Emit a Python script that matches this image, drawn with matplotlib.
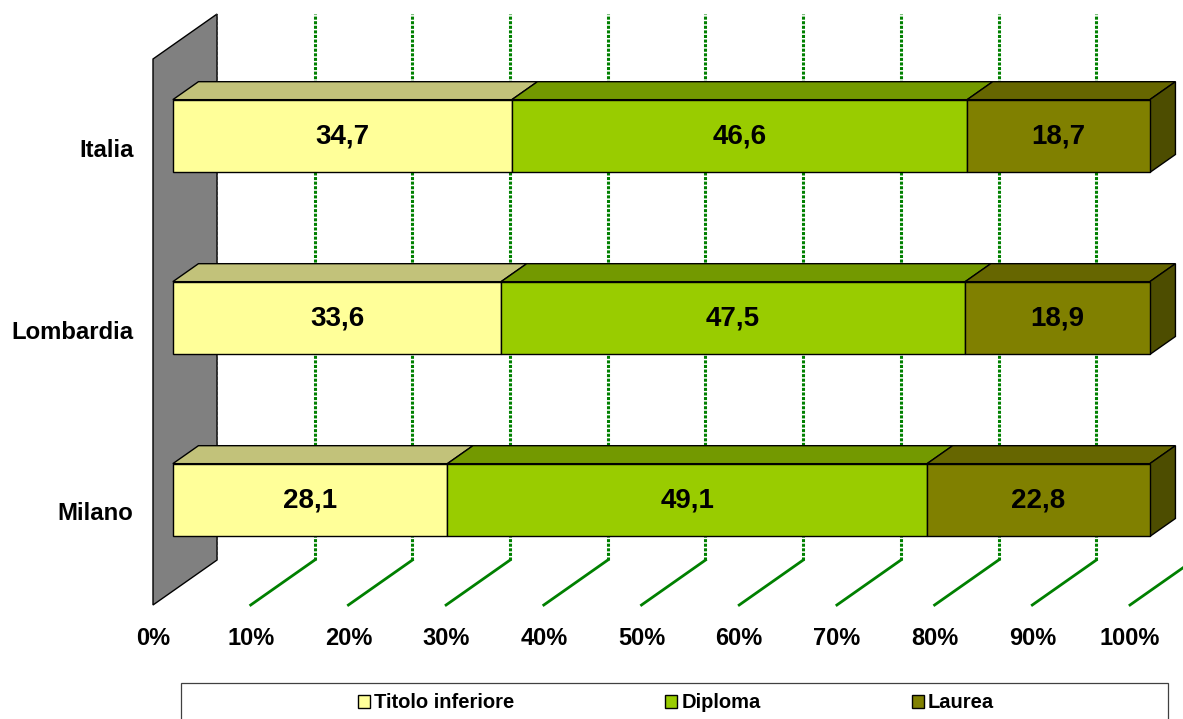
import matplotlib
matplotlib.use('Agg')
import matplotlib.pyplot as plt
from matplotlib.patches import Polygon, Rectangle, Patch

plt.rcParams['font.family'] = ['Liberation Sans', 'DejaVu Sans']
plt.rcParams['font.weight'] = 'bold'

# share of population by education level (%)
areas = ['Milano', 'Lombardia', 'Italia']
titolo = [28.1, 33.6, 34.7]
diploma = [49.1, 47.5, 46.6]
laurea = [22.8, 18.9, 18.7]
series_names = ['Titolo inferiore', 'Diploma', 'Laurea']
ticks = [0, 10, 20, 30, 40, 50, 60, 70, 80, 90, 100]

# front / top / side shades for each series
front = ['#FFFF99', '#99CC00', '#808000']
top = ['#C2C27A', '#739900', '#666600']
side = ['#B3B36B', '#5C7A00', '#4D4D00']

# oblique projection: depth z in [0, 1] shifts right and up
DX = 6.55
DY = 0.247
Z0, Z1 = 0.31, 0.71
HALF = 0.2
WALL_TOP = 3.0


def proj(x, y, z):
    return (x + z * DX, y + z * DY)


fig = plt.figure(figsize=(11.83, 7.19), dpi=100)
ax = fig.add_axes([0, 0, 1, 1])
ax.set_xlim(-153 / 9.77, (1183 - 153) / 9.77)
ax.set_ylim((605 - 719) / 182, 605 / 182)
ax.axis('off')

# grey side wall at 0%
wall = [proj(0, 0, 0), proj(0, 0, 1), proj(0, WALL_TOP, 1), proj(0, WALL_TOP, 0)]
ax.add_patch(Polygon(wall, closed=True, facecolor='#808080', edgecolor='black', lw=1, zorder=1))

# gridlines on back wall and floor
for t in ticks[1:]:
    x0, y0 = proj(t, 0, 1)
    x1, y1 = proj(t, WALL_TOP, 1)
    ax.plot([x0, x1], [y0, y1], color='#008000', lw=2.2, ls=(0, (1, 0.5)), zorder=2)
    xf, yf = proj(t, 0, 0)
    ax.plot([x0, xf], [y0, yf], color='#008000', lw=2.0, zorder=2)
x0, y0 = proj(0, 0, 1)
x1, y1 = proj(0, WALL_TOP, 1)
ax.plot([x0, x1], [y0, y1], color='#303030', lw=1.2, ls=(0, (2, 1)), zorder=2)

# tick labels along the front floor edge
for t in ticks:
    ax.text(t, -0.185, f'{t}%', ha='center', va='center', fontsize=17, fontweight='bold')

# stacked 3D bars
data = [titolo, diploma, laurea]
for i, area in enumerate(areas):
    yc = i + 0.5
    ax.text(-2.0, yc, area, ha='right', va='center', fontsize=17.2, fontweight='bold')
    left = 0
    for k, vals in enumerate(data):
        v = vals[i]
        right = left + v
        yb, yt = yc - HALF, yc + HALF
        face = [proj(left, yb, Z0), proj(right, yb, Z0), proj(right, yt, Z0), proj(left, yt, Z0)]
        roof = [proj(left, yt, Z0), proj(right, yt, Z0), proj(right, yt, Z1), proj(left, yt, Z1)]
        ax.add_patch(Polygon(roof, closed=True, facecolor=top[k], edgecolor='black', lw=1, zorder=3))
        ax.add_patch(Polygon(face, closed=True, facecolor=front[k], edgecolor='black', lw=1, zorder=4))
        if k == len(data) - 1:
            end = [proj(right, yb, Z0), proj(right, yt, Z0), proj(right, yt, Z1), proj(right, yb, Z1)]
            ax.add_patch(Polygon(end, closed=True, facecolor=side[k], edgecolor='black', lw=1, zorder=3))
        cx, cy = proj(left + v / 2, yc, Z0)
        ax.text(cx, cy, f'{v:.1f}'.replace('.', ','), ha='center', va='center',
                fontsize=20, fontweight='bold', zorder=5)
        left = right

# legend with wide frame
fig.patches.append(Rectangle((181 / 1183, -0.01), 987 / 1183, (719 - 683) / 719 + 0.01,
                             transform=fig.transFigure, facecolor='none',
                             edgecolor='#404040', lw=0.9))
handles = [Patch(facecolor=c, edgecolor='black', lw=1) for c in front]
fig.legend(handles, series_names, loc='center', bbox_to_anchor=(676 / 1183, 1 - 703 / 719),
           ncol=3, frameon=False, prop={'size': 14.5, 'weight': 'bold'},
           handlelength=0.6, handleheight=0.6, handletextpad=0.2, columnspacing=7.5)

fig.savefig('out.png', dpi=100)
